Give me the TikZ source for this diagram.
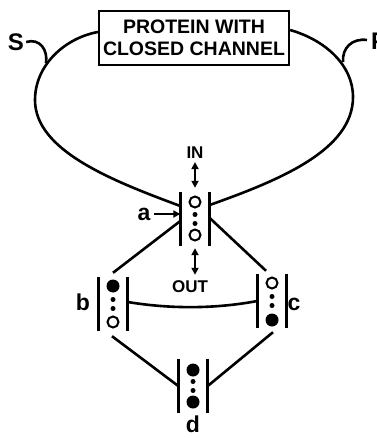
\documentclass[tikz,border=0pt]{standalone}
\usepackage{fontspec}
\setmainfont{Liberation Sans}
\usetikzlibrary{arrows.meta}
\tikzset{
  wire/.style={line width=2.6pt},
  barline/.style={line width=2.8pt},
  chan/.style={draw=none,minimum width=29pt,minimum height=54pt,inner sep=0pt},
  ocirc/.style={circle,draw,line width=2pt,minimum size=11pt,inner sep=0pt},
  fcirc/.style={circle,fill,minimum size=13pt,inner sep=0pt},
  sdot/.style={circle,fill,minimum size=5pt,inner sep=0pt},
  lbl/.style={font=\bfseries\fontsize{17}{17}\selectfont,inner sep=0pt},
  lttr/.style={font=\bfseries\fontsize{23}{23}\selectfont,inner sep=0pt},
  dbl/.style={line width=2.2pt,{Triangle[length=7pt,width=7pt]}-{Triangle[length=7pt,width=7pt]}},
  sgl/.style={line width=2.2pt,-{Triangle[length=7pt,width=7pt]}},
}
\begin{document}
\begin{tikzpicture}[x=1pt,y=-1pt]
\useasboundingbox (0,0) rectangle (376,438);
% box
\node[draw,line width=2.2pt,minimum width=190pt,minimum height=54pt,inner sep=0pt,align=center,
  font=\bfseries\fontsize{19.5}{22}\selectfont] (box) at (194,38)
  {PROTEIN WITH\\CLOSED CHANNEL};
\node[font=\bfseries\fontsize{24}{24}\selectfont,inner sep=0pt] (S) at (16,42) {S};
\node[font=\bfseries\fontsize{24}{24}\selectfont,inner sep=0pt,anchor=west] (P) at (371,41) {P};
% channels
\node[chan] (A) at (195,219) {};
\node[chan] (B) at (113,304) {};
\node[chan] (C) at (272,301) {};
\node[chan] (D) at (193,386) {};
\foreach \n in {A,B,C,D}{
  \draw[barline] (\n.north west) -- (\n.south west);
  \draw[barline] (\n.north east) -- (\n.south east);
  \node[sdot] at ([yshift=4.5pt]\n.center) {};
  \node[sdot] at ([yshift=-4.5pt]\n.center) {};
}
\node[ocirc] (A1) at ([yshift=17pt]A.center) {};
\node[ocirc] (A2) at ([yshift=-16pt]A.center) {};
\node[fcirc] (B1) at ([yshift=18pt]B.center) {};
\node[ocirc] (B2) at ([yshift=-18pt]B.center) {};
\node[ocirc] (C1) at ([yshift=18pt]C.center) {};
\node[fcirc] (C2) at ([yshift=-19pt]C.center) {};
\node[fcirc] (D1) at ([yshift=16pt]D.center) {};
\node[fcirc] (D2) at ([yshift=-16pt]D.center) {};
% labels
\node[lbl] (IN) at (195,153) {IN};
\node[lbl] (OUT) at (190,287) {OUT};
\node[lttr] (la) at (144,214) {a};
\node[lttr] (lb) at (83,302) {b};
\node[lttr] (lc) at (294,304) {c};
\node[lttr] (ld) at (193,424) {d};
% arrows
\draw[dbl] ([yshift=-3pt]IN.south) -- ([yshift=4pt]A.north);
\draw[dbl] ([yshift=-2pt]A.south) -- ([xshift=5pt,yshift=6pt]OUT.north);
\draw[sgl] ([xshift=3pt]la.east) -- ([yshift=5pt]A.west);
% loop
\draw[wire] ([yshift=6pt]box.west) .. controls (65,38) and (35,65) .. (35,100)
  .. controls (35,150) and (110,180) .. ([yshift=13pt]A.west);
\draw[wire] ([yshift=8pt]box.east) .. controls (325,40) and (353,65) .. (353,97)
  .. controls (353,150) and (280,180) .. ([yshift=14pt]A.east);
\coordinate (jl) at (46,63);
\coordinate (jr) at (343,62);
\draw[wire] ([xshift=2pt]S.east) .. controls (40,38) and (48,50) .. (jl);
\draw[wire] ([xshift=-4pt,yshift=1pt]P.west) .. controls (352,38) and (342,48) .. (jr);
% connectors
\draw[wire] ([yshift=-2pt]A.west) -- ([yshift=4pt]B.north);
\draw[wire] ([yshift=1pt]A.east) -- ([xshift=-6pt,yshift=3pt]C.north);
\draw[wire] ([yshift=2pt]B.east) .. controls (170,309) and (215,309) .. ([yshift=0pt]C.west);
\draw[wire] ([xshift=-1pt,yshift=-5pt]B.south) -- (D.west);
\draw[wire] ([xshift=1pt,yshift=-4pt]C.south) -- (D.east);
\end{tikzpicture}
\end{document}
